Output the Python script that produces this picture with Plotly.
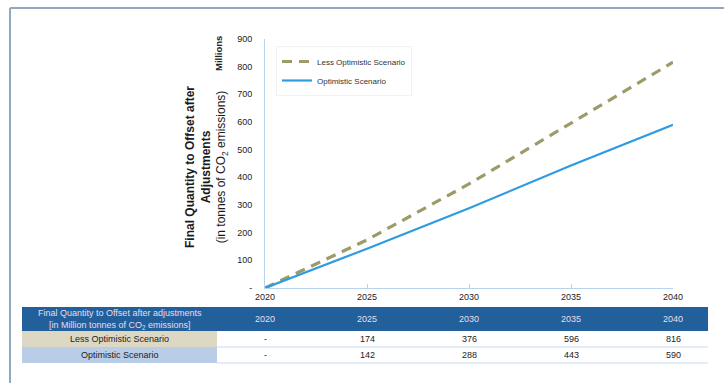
import plotly.graph_objects as go

# ---- data ----
years = [2020, 2025, 2030, 2035, 2040]
less_optimistic = [0, 174, 376, 596, 816]
optimistic = [0, 142, 288, 443, 590]
series_names = ["Less Optimistic Scenario", "Optimistic Scenario"]
y_ticks = [0, 100, 200, 300, 400, 500, 600, 700, 800, 900]
y_ticktext = ["-"] + [str(v) for v in y_ticks[1:]]

# ---- page geometry (pixels) ----
W, H = 724, 383
L, R, T, B = 265, 51, 39, 95
PW, PH = W - L - R, H - T - B


def px(x):
    """pixel x -> paper x"""
    return (x - L) / PW


def py(y):
    """pixel y -> paper y"""
    return (H - B - y) / PH


FONT = "Liberation Sans, Arial, sans-serif"
DASH_COL = "#9d9b68"
SOLID_COL = "#2f9be0"
AXIS_COL = "#b8d4ec"
HEAD_BG = "#22609c"
HEAD_TXT = "#eadcec"


def note(**kw):
    base = dict(showarrow=False, xanchor="center", yanchor="middle")
    base.update(kw)
    return base


fig = go.Figure()
fig.add_trace(go.Scatter(
    x=years, y=less_optimistic, name=series_names[0], mode="lines",
    line=dict(color=DASH_COL, width=3.2, dash="10px,7px"),
))
fig.add_trace(go.Scatter(
    x=years, y=optimistic, name=series_names[1], mode="lines",
    line=dict(color=SOLID_COL, width=2.2),
))

shapes = []
annotations = []

# outer frame (left and top edges)
shapes.append(dict(type="line", xref="paper", yref="paper",
                   x0=px(10), x1=px(W + 5), y0=py(8), y1=py(8),
                   line=dict(color="#90a8c0", width=2)))
shapes.append(dict(type="line", xref="paper", yref="paper",
                   x0=px(10), x1=px(10), y0=py(8), y1=py(H + 5),
                   line=dict(color="#90a8c0", width=2)))

# ---- data table under the chart ----
tbl_left, tbl_right, col1_right = 22, 708, 217
head_top, head_bot = 307, 331
row_edges = [331, 347, 363]
row_bgs = ["#ddd8c4", "#b9cde6"]

shapes.append(dict(type="rect", xref="paper", yref="paper",
                   x0=px(tbl_left), x1=px(tbl_right),
                   y0=py(head_top), y1=py(head_bot),
                   fillcolor=HEAD_BG, line=dict(width=0), layer="below"))
for i, bg in enumerate(row_bgs):
    shapes.append(dict(type="rect", xref="paper", yref="paper",
                       x0=px(tbl_left), x1=px(col1_right),
                       y0=py(row_edges[i]), y1=py(row_edges[i + 1]),
                       fillcolor=bg, line=dict(width=0), layer="below"))
    shapes.append(dict(type="line", xref="paper", yref="paper",
                       x0=px(col1_right), x1=px(tbl_right),
                       y0=py(row_edges[i + 1]), y1=py(row_edges[i + 1]),
                       line=dict(color="#c4dbef", width=1)))

annotations.append(note(
    xref="paper", yref="paper", x=px((tbl_left + col1_right) / 2),
    y=py((head_top + head_bot) / 2),
    text="Final Quantity to Offset after adjustments<br>[in Million tonnes of CO<sub>2</sub> emissions]",
    font=dict(family=FONT, size=9, color=HEAD_TXT), align="center"))

for yr in years:
    annotations.append(note(xref="x", yref="paper", x=yr,
                            y=py((head_top + head_bot) / 2),
                            text=str(yr),
                            font=dict(family=FONT, size=9, color=HEAD_TXT)))

for i, (label, vals) in enumerate(zip(series_names, [less_optimistic, optimistic])):
    yc = py((row_edges[i] + row_edges[i + 1]) / 2)
    annotations.append(note(xref="paper", yref="paper",
                            x=px((tbl_left + col1_right) / 2), y=yc,
                            text=label,
                            font=dict(family=FONT, size=9, color="#222")))
    for yr, v in zip(years, vals):
        annotations.append(note(xref="x", yref="paper", x=yr, y=yc,
                                text="-" if v == 0 else str(v),
                                font=dict(family=FONT, size=9, color="#222")))

# ---- axis titles ----
annotations.append(note(
    xref="paper", yref="paper", x=px(206), y=py(167),
    textangle=-90, align="center",
    text="<b>Final Quantity to Offset after<br>Adjustments</b><br>(in tonnes of CO<sub>2</sub> emissions)",
    font=dict(family=FONT, size=12, color="#1a1a1a")))
annotations.append(note(
    xref="paper", yref="paper", x=px(219), y=py(54),
    textangle=-90, text="<b>Millions</b>",
    font=dict(family=FONT, size=9.5, color="#222")))

fig.update_layout(
    width=W, height=H,
    margin=dict(l=L, r=R, t=T, b=B),
    paper_bgcolor="white", plot_bgcolor="white",
    font=dict(family=FONT, color="#222"),
    shapes=shapes, annotations=annotations,
    showlegend=True,
    legend=dict(x=px(276), y=py(46), xanchor="left", yanchor="top",
                bgcolor="white", bordercolor="#f2f2f2", borderwidth=1,
                font=dict(family=FONT, size=8, color="#333"),
                tracegroupgap=2, itemwidth=30),
    xaxis=dict(range=[2020, 2040], tickvals=years, ticktext=[str(y) for y in years],
               showgrid=False, zeroline=False, showline=True,
               linecolor=AXIS_COL, linewidth=1,
               ticks="inside", ticklen=4, tickcolor=AXIS_COL,
               tickfont=dict(family=FONT, size=9, color="#222")),
    yaxis=dict(range=[0, 900], tickvals=y_ticks, ticktext=y_ticktext,
               showgrid=False, zeroline=False, showline=True,
               linecolor=AXIS_COL, linewidth=1, ticks="",
               ticklabelstandoff=10,
               tickfont=dict(family=FONT, size=9, color="#222")),
)

fig.write_html("out.html")
